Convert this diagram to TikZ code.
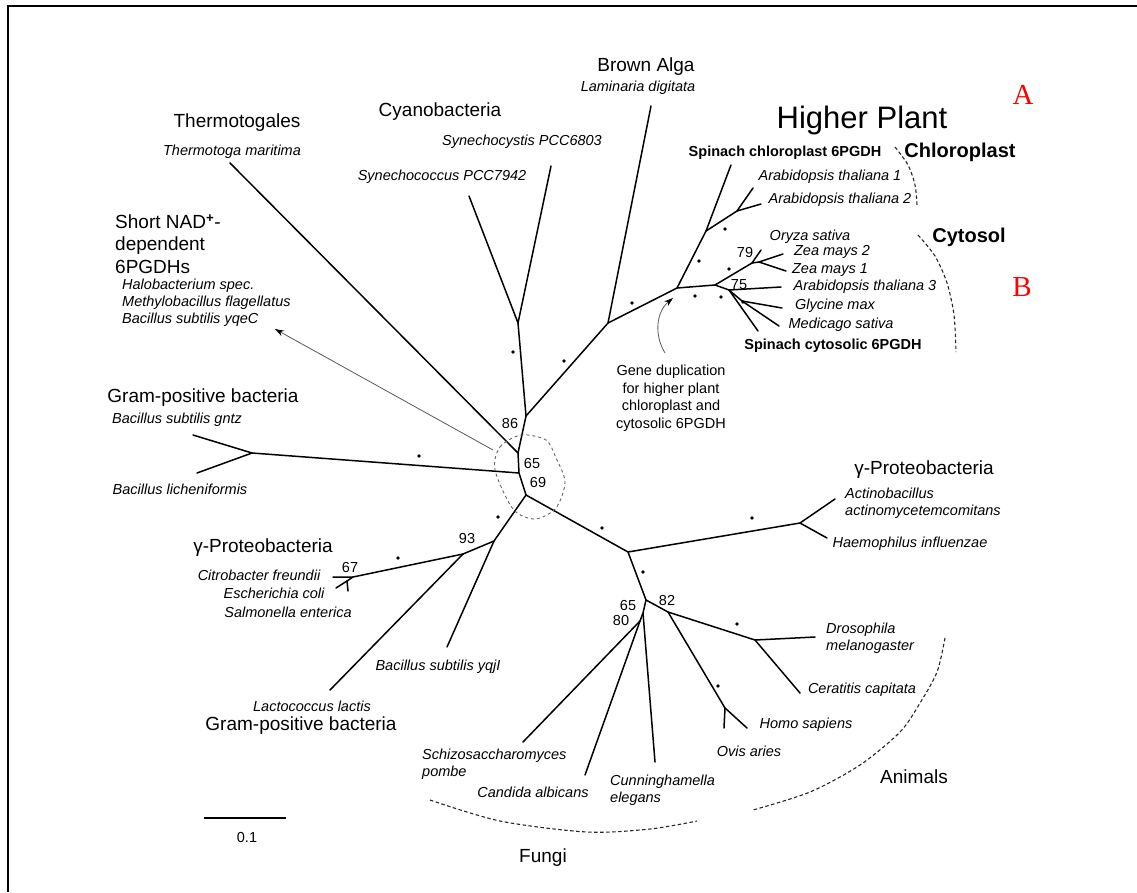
\documentclass[tikz,border=0pt]{standalone}
\usepackage{fontspec}
\setmainfont{Liberation Sans}
\newfontfamily\panelserif{Liberation Serif}
\usetikzlibrary{arrows.meta}
\begin{document}
\begin{tikzpicture}[x=1pt,y=-1pt,
  br/.style={line width=1.5pt, line cap=round, line join=round},
  sp/.style={font=\fontsize{14.5}{17}\selectfont\itshape, inner sep=0pt},
  spb/.style={font=\fontsize{14.5}{17}\selectfont\bfseries, inner sep=0pt},
  grp/.style={font=\fontsize{19}{22.5}\selectfont, inner sep=0pt},
  grpb/.style={font=\fontsize{20}{22}\selectfont\bfseries, inner sep=0pt},
  bsv/.style={font=\fontsize{14.5}{17.5}\selectfont, inner sep=0pt},
  arcd/.style={dash pattern=on 3.5pt off 2.5pt, line width=1.1pt, black!85},
  panel/.style={red, font=\fontsize{29}{30}\selectfont\panelserif, inner sep=0pt},
  pointer/.style={line width=0.8pt, black!65, -{Stealth[length=9pt,width=6pt,black]}}
]
\useasboundingbox (0,0) rectangle (1137,892);
% frame
\draw[line width=2pt] (8,892) -- (8,6) -- (1137,6);

% ---- tree coordinates ----
\coordinate (N86) at (526,416);
\coordinate (R1) at (518,453);
\coordinate (R0) at (519,473);
\coordinate (R2) at (526,495);
\coordinate (Cy) at (518,323);
\coordinate (tSc1) at (551,166);
\coordinate (tSc2) at (469,196);
\coordinate (BA) at (608,323);
\coordinate (tLd) at (651,106);
\coordinate (PL) at (677,288);
\coordinate (CH) at (706,231);
\coordinate (tSCh) at (731,165);
\coordinate (AT) at (737,211);
\coordinate (tAt1) at (753,188);
\coordinate (tAt2) at (761,204);
\coordinate (CS) at (715,285);
\coordinate (MO) at (752,263);
\coordinate (tOs) at (761,250);
\coordinate (ZM) at (759,262);
\coordinate (tZm2) at (783,254);
\coordinate (tZm1) at (786,271);
\coordinate (DI) at (729,290);
\coordinate (tAt3) at (781,287);
\coordinate (DI2) at (742,301);
\coordinate (tGm) at (782,308);
\coordinate (tMs) at (779,326);
\coordinate (tSCy) at (758,331);
\coordinate (tTm) at (230,163);
\coordinate (GP) at (252,453);
\coordinate (tBg) at (193,435);
\coordinate (tBl) at (197,473);
\coordinate (N93) at (494,541);
\coordinate (tYq) at (447,647);
\coordinate (GL) at (463,554);
\coordinate (tLl) at (330,690);
\coordinate (G67) at (353,577);
\coordinate (G67b) at (347,581);
\coordinate (tCf) at (333,577);
\coordinate (tEc) at (336,588);
\coordinate (tSe) at (348,591);
\coordinate (P) at (628,552);
\coordinate (GR) at (800,523);
\coordinate (tAa) at (835,499);
\coordinate (tHi) at (827,538);
\coordinate (Q) at (646,600);
\coordinate (F1) at (643,613);
\coordinate (tCe) at (655,762);
\coordinate (F2) at (640,621);
\coordinate (tSp) at (523,742);
\coordinate (tCa) at (585,775);
\coordinate (AN) at (668,612);
\coordinate (DC) at (755,640);
\coordinate (tDm) at (815,637);
\coordinate (tCc) at (800,693);
\coordinate (MM) at (725,708);
\coordinate (tHs) at (747,728);
\coordinate (tOa) at (724,728);

% ---- branches ----
\draw[br] (tSc2) -- (Cy) -- (tSc1);
\draw[br] (Cy) -- (N86) -- (R1) -- (R0) -- (R2);
\draw[br] (N86) -- (BA) -- (tLd);
\draw[br] (BA) -- (PL) -- (CH) -- (tSCh);
\draw[br] (CH) -- (AT) -- (tAt1);
\draw[br] (AT) -- (tAt2);
\draw[br] (PL) -- (CS) -- (MO) -- (tOs);
\draw[br] (MO) -- (ZM) -- (tZm2);
\draw[br] (ZM) -- (tZm1);
\draw[br] (CS) -- (DI) -- (tAt3);
\draw[br] (DI) -- (DI2) -- (tGm);
\draw[br] (DI2) -- (tMs);
\draw[br] (DI) -- (tSCy);
\draw[br] (R1) -- (tTm);
\draw[br] (R0) -- (GP) -- (tBg);
\draw[br] (GP) -- (tBl);
\draw[br] (R2) -- (N93) -- (tYq);
\draw[br] (N93) -- (GL) -- (tLl);
\draw[br] (GL) -- (G67) -- (tCf);
\draw[br] (G67) -- (G67b) -- (tEc);
\draw[br] (G67b) -- (tSe);
\draw[br] (R2) -- (P) -- (GR) -- (tAa);
\draw[br] (GR) -- (tHi);
\draw[br] (P) -- (Q) -- (F1) -- (tCe);
\draw[br] (F1) -- (F2) -- (tSp);
\draw[br] (F2) -- (tCa);
\draw[br] (Q) -- (AN) -- (DC) -- (tDm);
\draw[br] (DC) -- (tCc);
\draw[br] (AN) -- (MM) -- (tHs);
\draw[br] (MM) -- (tOa);

% bootstrap dots
\foreach \p in {(513,352),(564,361),(632,303),(695,296),(721,297),(743,302),(699,261),(729,269),(725,229),(419,456),(498,517),(602,528),(752,518),(643,572),(737,624),(718,686),(398,558)}
  \fill \p circle[radius=1.8pt];

% bootstrap values
\node[bsv] (b86) at (510,423) {86};
\node[bsv] (b65) at (532,463) {65};
\node[bsv] (b69) at (538,482) {69};
\node[bsv] (b93) at (467,538) {93};
\node[bsv] (b79) at (745,253) {79};
\node[bsv] (b75) at (739,285) {75};
\node[bsv] (b82) at (667,600) {82};
\node[bsv] (b65f) at (628,605) {65};
\node[bsv] (b80) at (621,620) {80};
\node[bsv] (b67) at (350,567) {67};

% dashed outlines
\draw[dashed, black!60, line width=0.9pt] plot[smooth cycle] coordinates {(495,470) (500,447) (521,435) (546,440) (556,458) (565,482) (556,508) (535,519) (513,509)};
\draw[arcd] plot[smooth] coordinates {(895,147) (908,165) (915,185) (917,205)};
\draw[arcd] plot[smooth] coordinates {(918,235) (935,256) (947,283) (954,315) (956,352)};
\draw[arcd] plot[smooth] coordinates {(430,800) (500,821) (587,832) (650,829) (697,821)};
\draw[arcd] plot[smooth] coordinates {(945,638) (937,672) (920,703) (900,732) (860,765) (810,792) (753,810)};

% pointers
\coordinate (aS) at (493,450);
\coordinate (aE) at (275,329);
\draw[pointer] (aS) -- (aE);
\coordinate (gdS) at (665,353);
\coordinate (gdE) at (673,298);
\draw[pointer] (gdS) .. controls (654,335) and (656,312) .. (gdE);

% scale bar
\coordinate (sb1) at (204,818);
\coordinate (sb2) at (286,818);
\draw[line width=1.5pt] (sb1) -- (sb2);
\node[bsv] (sbl) at (247,837) {0.1};

% ---- labels ----
\node[grp] (lTg) at (237,123) {Thermotogales};
\node[sp] (lTm) at (232,152) {Thermotoga maritima};
\node[grp] (lCy) at (440,112) {Cyanobacteria};
\node[sp] (lSc1) at (522,142) {Synechocystis PCC6803};
\node[sp] (lSc2) at (442,177) {Synechococcus PCC7942};
\node[grp] (lBA) at (646,67) {Brown Alga};
\node[sp] (lLd) at (638,88) {Laminaria digitata};
\node[font=\fontsize{31}{33}\selectfont, inner sep=0pt] (lHP) at (862,120) {Higher Plant};
\node[spb] (lSCh) at (785,153) {Spinach chloroplast 6PGDH};
\node[grpb] (lChl) at (960,152) {Chloroplast};
\node[sp] (lAt1) at (830,177) {Arabidopsis thaliana 1};
\node[sp] (lAt2) at (840,200) {Arabidopsis thaliana 2};
\node[grpb] (lCyt) at (969,237) {Cytosol};
\node[sp] (lOs) at (810,237) {Oryza sativa};
\node[sp] (lZm2) at (832,252) {Zea mays 2};
\node[sp] (lZm1) at (830,270) {Zea mays 1};
\node[sp] (lAt3) at (865,287) {Arabidopsis thaliana 3};
\node[sp] (lGm) at (835,306) {Glycine max};
\node[sp] (lMs) at (841,325) {Medicago sativa};
\node[spb] (lSCy) at (833,346) {Spinach cytosolic 6PGDH};
\node[panel] (pA) at (1023,95) {A};
\node[panel] (pB) at (1022,287) {B};

\node[grp, align=left, anchor=west] (lNAD) at (115,244) {Short NAD\textsuperscript{\textbf{+}}-\\dependent\\6PGDHs};
\node[sp, align=left, anchor=west] (lNADs) at (122,303) {Halobacterium spec.\\Methylobacillus flagellatus\\Bacillus subtilis yqeC};
\node[grp] (lGP1) at (203,398) {Gram-positive bacteria};
\node[sp] (lBg) at (177,420) {Bacillus subtilis gntz};
\node[sp] (lBl) at (180,489) {Bacillus licheniformis};
\node[grp] (lGPr1) at (263,548) {γ-Proteobacteria};
\node[sp] (lCf) at (259,575) {Citrobacter freundii};
\node[sp] (lEc) at (274,593) {Escherichia coli};
\node[sp] (lSe) at (288,612) {Salmonella enterica};
\node[sp] (lYq) at (438,667) {Bacillus subtilis yqjI};
\node[sp] (lLl) at (312,706) {Lactococcus lactis};
\node[grp] (lGP2) at (301,726) {Gram-positive bacteria};

\node[sp, align=left, anchor=west] (lSp) at (422,764) {Schizosaccharomyces\\pombe};
\node[sp] (lCa) at (533,792) {Candida albicans};
\node[sp, align=left, anchor=west] (lCe) at (610,790) {Cunninghamella\\elegans};
\node[grp] (lFu) at (543,858) {Fungi};
\node[sp] (lHs) at (806,725) {Homo sapiens};
\node[sp] (lOa) at (749,751) {Ovis aries};
\node[sp, align=left, anchor=west] (lDm) at (826,638) {Drosophila\\melanogaster};
\node[sp] (lCc) at (862,690) {Ceratitis capitata};
\node[grp] (lAn) at (914,777) {Animals};
\node[grp] (lGPr2) at (924,470) {γ-Proteobacteria};
\node[sp, align=left, anchor=west] (lAa) at (845,503) {Actinobacillus\\actinomycetemcomitans};
\node[sp] (lHi) at (910,544) {Haemophilus influenzae};

\node[bsv, align=center] (lGD) at (671,398) {Gene duplication\\for higher plant\\chloroplast and\\cytosolic 6PGDH};
\end{tikzpicture}
\end{document}
